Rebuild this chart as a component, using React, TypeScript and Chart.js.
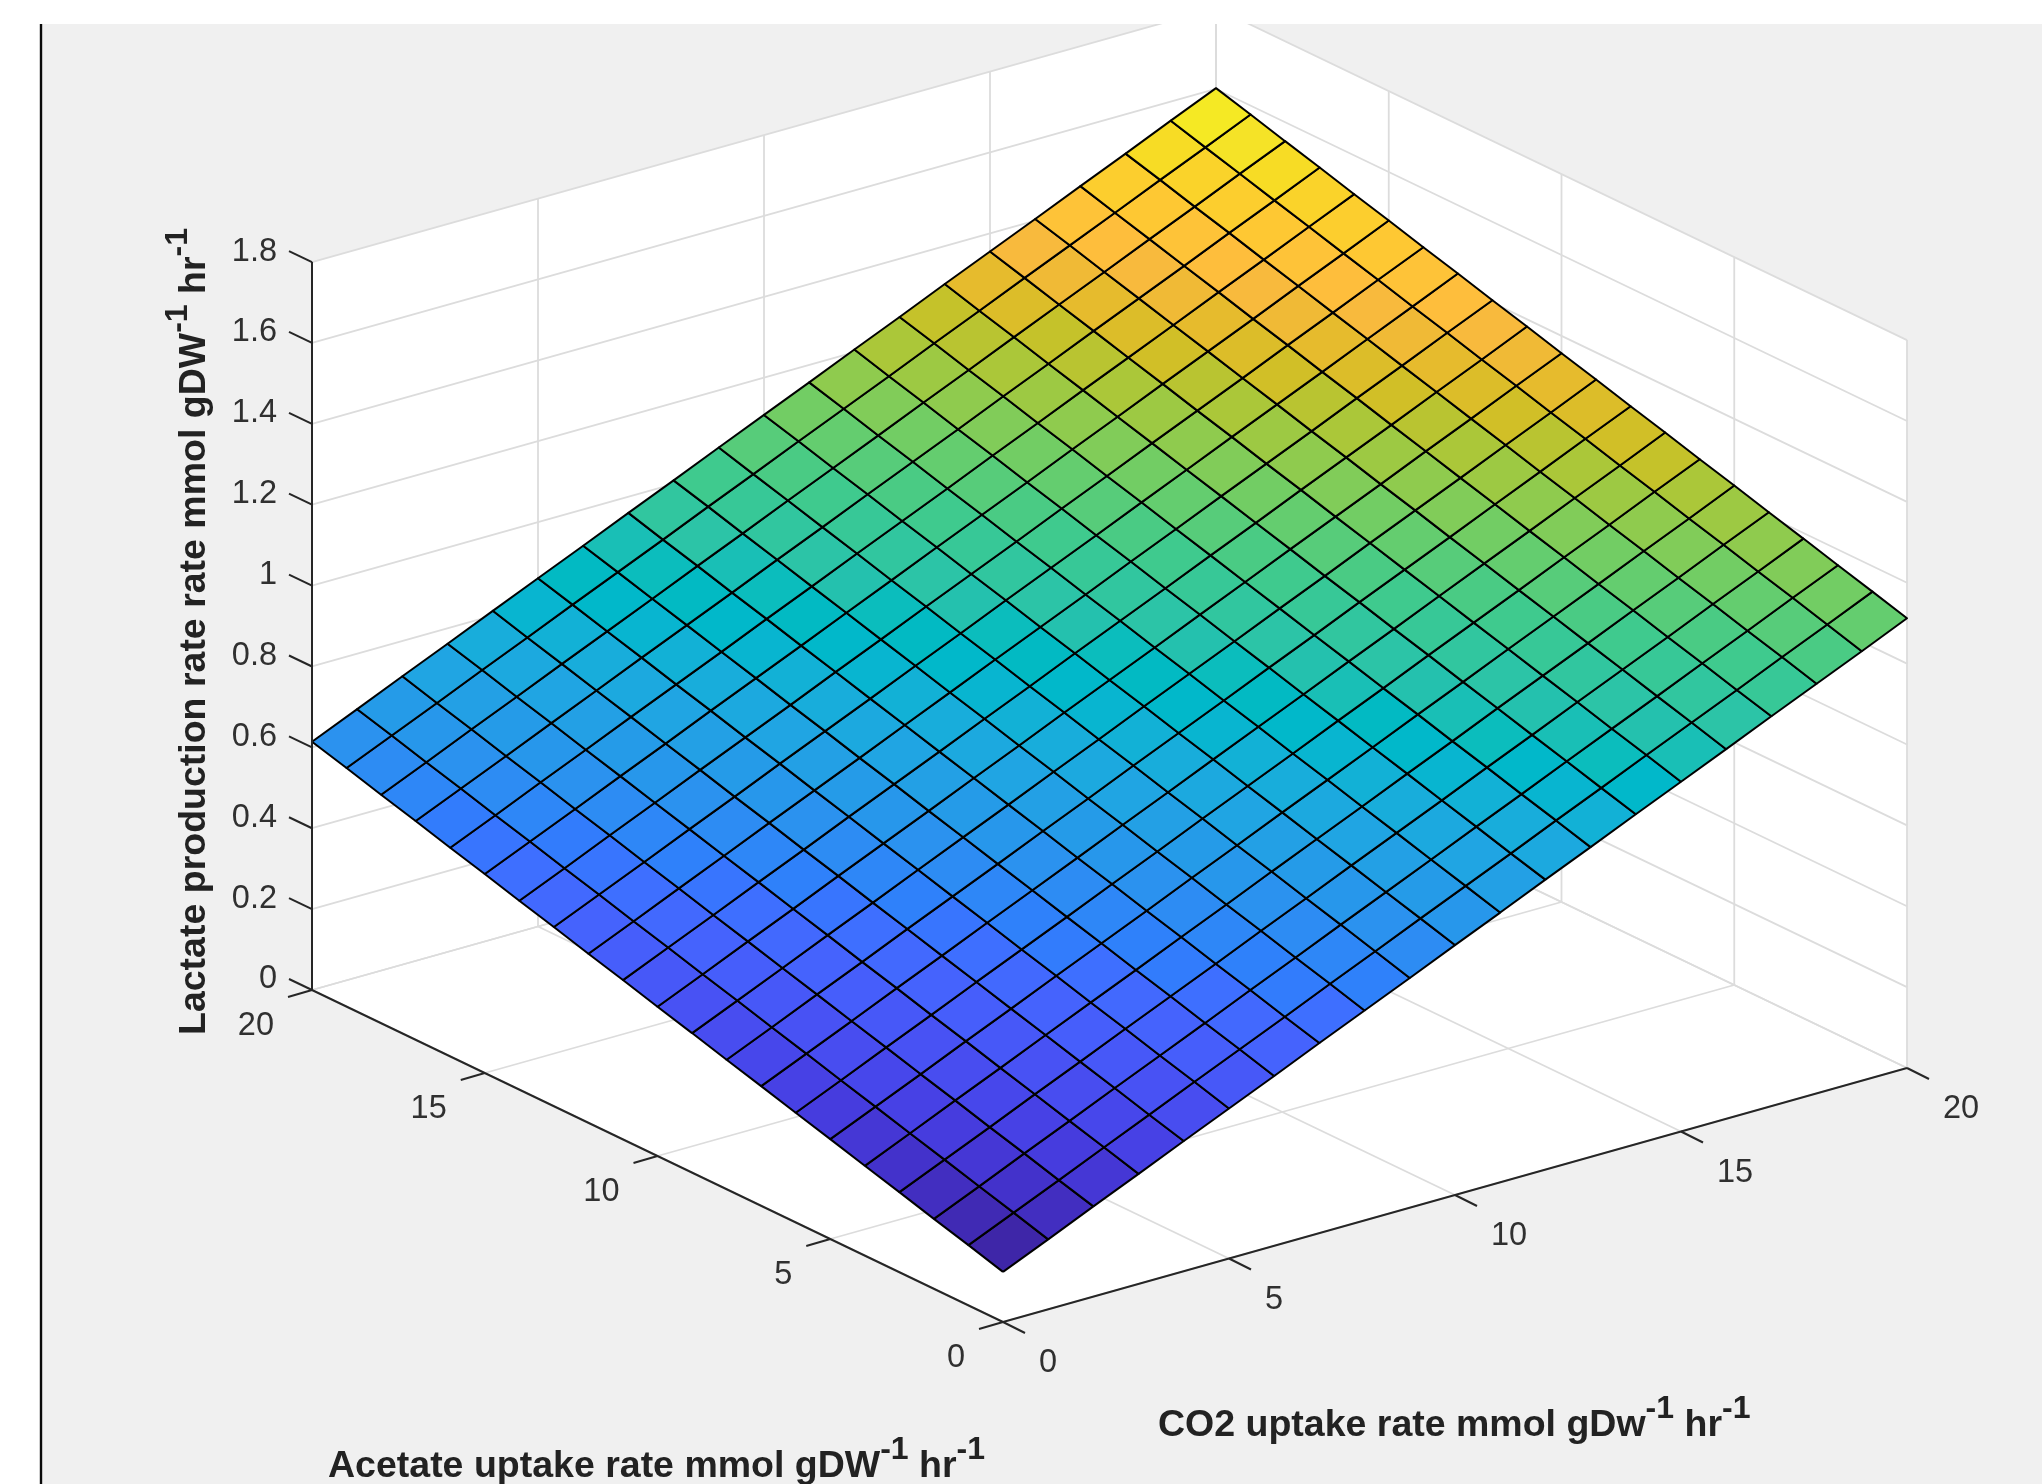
import React, { useEffect, useRef } from "react";
import { Chart, registerables } from "chart.js";

Chart.register(...registerables);

const co2Values = [0, 1, 2, 3, 4, 5, 6, 7, 8, 9, 10, 11, 12, 13, 14, 15, 16, 17, 18, 19, 20];
const acetateValues = [0, 1, 2, 3, 4, 5, 6, 7, 8, 9, 10, 11, 12, 13, 14, 15, 16, 17, 18, 19, 20];

// Lactate production: one row per acetate value, one column per CO2 value
const lactate = [
  [0.124, 0.173, 0.223, 0.272, 0.322, 0.371, 0.42, 0.47, 0.519, 0.568, 0.618, 0.667, 0.717, 0.766, 0.816, 0.865, 0.914, 0.964, 1.013, 1.062, 1.112],
  [0.149, 0.198, 0.247, 0.297, 0.346, 0.396, 0.445, 0.494, 0.544, 0.593, 0.643, 0.692, 0.741, 0.791, 0.84, 0.89, 0.939, 0.988, 1.038, 1.087, 1.137],
  [0.173, 0.222, 0.272, 0.321, 0.371, 0.42, 0.469, 0.519, 0.568, 0.618, 0.667, 0.716, 0.766, 0.815, 0.865, 0.914, 0.963, 1.013, 1.062, 1.112, 1.161],
  [0.198, 0.247, 0.296, 0.346, 0.395, 0.445, 0.494, 0.543, 0.593, 0.642, 0.692, 0.741, 0.79, 0.84, 0.889, 0.939, 0.988, 1.037, 1.087, 1.136, 1.186],
  [0.222, 0.271, 0.321, 0.37, 0.42, 0.469, 0.518, 0.568, 0.617, 0.667, 0.716, 0.765, 0.815, 0.864, 0.914, 0.963, 1.012, 1.062, 1.111, 1.161, 1.21],
  [0.247, 0.296, 0.345, 0.395, 0.444, 0.494, 0.543, 0.592, 0.642, 0.691, 0.741, 0.79, 0.839, 0.889, 0.938, 0.988, 1.037, 1.086, 1.136, 1.185, 1.235],
  [0.271, 0.32, 0.37, 0.419, 0.469, 0.518, 0.567, 0.617, 0.666, 0.716, 0.765, 0.814, 0.864, 0.913, 0.963, 1.012, 1.061, 1.111, 1.16, 1.21, 1.259],
  [0.296, 0.345, 0.394, 0.444, 0.493, 0.543, 0.592, 0.641, 0.691, 0.74, 0.79, 0.839, 0.888, 0.938, 0.987, 1.037, 1.086, 1.135, 1.185, 1.234, 1.284],
  [0.32, 0.369, 0.419, 0.468, 0.518, 0.567, 0.616, 0.666, 0.715, 0.765, 0.814, 0.863, 0.913, 0.962, 1.012, 1.061, 1.11, 1.16, 1.209, 1.259, 1.308],
  [0.345, 0.394, 0.443, 0.493, 0.542, 0.592, 0.641, 0.69, 0.74, 0.789, 0.839, 0.888, 0.937, 0.987, 1.036, 1.086, 1.135, 1.184, 1.234, 1.283, 1.333],
  [0.369, 0.418, 0.468, 0.517, 0.567, 0.616, 0.665, 0.715, 0.764, 0.814, 0.863, 0.912, 0.962, 1.011, 1.061, 1.11, 1.159, 1.209, 1.258, 1.308, 1.357],
  [0.394, 0.443, 0.492, 0.542, 0.591, 0.641, 0.69, 0.739, 0.789, 0.838, 0.888, 0.937, 0.986, 1.036, 1.085, 1.135, 1.184, 1.233, 1.283, 1.332, 1.382],
  [0.418, 0.467, 0.517, 0.566, 0.616, 0.665, 0.714, 0.764, 0.813, 0.863, 0.912, 0.961, 1.011, 1.06, 1.11, 1.159, 1.208, 1.258, 1.307, 1.357, 1.406],
  [0.443, 0.492, 0.541, 0.591, 0.64, 0.69, 0.739, 0.788, 0.838, 0.887, 0.937, 0.986, 1.035, 1.085, 1.134, 1.184, 1.233, 1.282, 1.332, 1.381, 1.431],
  [0.467, 0.516, 0.566, 0.615, 0.665, 0.714, 0.763, 0.813, 0.862, 0.912, 0.961, 1.01, 1.06, 1.109, 1.159, 1.208, 1.257, 1.307, 1.356, 1.406, 1.455],
  [0.492, 0.541, 0.59, 0.64, 0.689, 0.739, 0.788, 0.837, 0.887, 0.936, 0.986, 1.035, 1.084, 1.134, 1.183, 1.233, 1.282, 1.331, 1.381, 1.43, 1.48],
  [0.516, 0.565, 0.615, 0.664, 0.714, 0.763, 0.812, 0.862, 0.911, 0.961, 1.01, 1.059, 1.109, 1.158, 1.208, 1.257, 1.306, 1.356, 1.405, 1.455, 1.504],
  [0.541, 0.59, 0.639, 0.689, 0.738, 0.788, 0.837, 0.886, 0.936, 0.985, 1.035, 1.084, 1.133, 1.183, 1.232, 1.282, 1.331, 1.38, 1.43, 1.479, 1.529],
  [0.565, 0.614, 0.664, 0.713, 0.763, 0.812, 0.861, 0.911, 0.96, 1.01, 1.059, 1.108, 1.158, 1.207, 1.257, 1.306, 1.355, 1.405, 1.454, 1.504, 1.553],
  [0.59, 0.639, 0.688, 0.738, 0.787, 0.837, 0.886, 0.935, 0.985, 1.034, 1.084, 1.133, 1.182, 1.232, 1.281, 1.331, 1.38, 1.429, 1.479, 1.528, 1.578],
  [0.614, 0.663, 0.713, 0.762, 0.812, 0.861, 0.91, 0.96, 1.009, 1.059, 1.108, 1.157, 1.207, 1.256, 1.306, 1.355, 1.404, 1.454, 1.503, 1.553, 1.602],
];

const zTicks = [0, 0.2, 0.4, 0.6, 0.8, 1, 1.2, 1.4, 1.6, 1.8];
const floorTicks = [0, 5, 10, 15, 20];
const zTitle = ["Lactate production rate rate mmol gDW", "-1", " hr", "-1"];
const acetateTitle = ["Acetate uptake rate mmol gDW", "-1", " hr", "-1"];
const co2Title = ["CO2 uptake rate mmol gDw", "-1", " hr", "-1"];

// MATLAB parula colormap
const parula = [
  [0.2422,0.1504,0.6603],[0.2504,0.165,0.7076],[0.2578,0.1818,0.7511],[0.2647,0.1978,0.7952],
  [0.2706,0.2147,0.8364],[0.2751,0.2342,0.871],[0.2783,0.2559,0.8991],[0.2803,0.2782,0.9221],
  [0.2813,0.3006,0.9414],[0.281,0.3228,0.9579],[0.2795,0.3447,0.9717],[0.276,0.3667,0.9829],
  [0.2699,0.3892,0.9906],[0.2602,0.4123,0.9952],[0.244,0.4358,0.9988],[0.2206,0.4603,0.9973],
  [0.1963,0.4847,0.9892],[0.1834,0.5074,0.9798],[0.1786,0.5289,0.9682],[0.1764,0.5499,0.952],
  [0.1687,0.572,0.9359],[0.154,0.5902,0.9218],[0.146,0.6091,0.9079],[0.138,0.6276,0.8973],
  [0.1248,0.6459,0.8883],[0.1113,0.6635,0.8763],[0.0952,0.6798,0.8598],[0.0689,0.6948,0.8394],
  [0.0297,0.7082,0.8163],[0.0036,0.7203,0.7917],[0.0067,0.7312,0.766],[0.0433,0.7411,0.7394],
  [0.0964,0.75,0.712],[0.1408,0.7584,0.6842],[0.1717,0.767,0.6554],[0.1938,0.7758,0.6251],
  [0.2161,0.7843,0.5923],[0.247,0.7918,0.5567],[0.2906,0.7973,0.5188],[0.3406,0.8008,0.4789],
  [0.3909,0.8029,0.4354],[0.4456,0.8024,0.3909],[0.5044,0.7993,0.348],[0.5616,0.7942,0.3045],
  [0.6174,0.7876,0.2612],[0.672,0.7793,0.2227],[0.7242,0.7698,0.191],[0.7738,0.7598,0.1646],
  [0.8203,0.7498,0.1535],[0.8634,0.7406,0.1596],[0.9035,0.733,0.1774],[0.9393,0.7288,0.21],
  [0.9728,0.7298,0.2394],[0.9956,0.7434,0.2371],[0.997,0.7659,0.2199],[0.9952,0.7861,0.1999],
  [0.9892,0.8086,0.1816],[0.9786,0.8289,0.1641],[0.9676,0.8639,0.1436],[0.961,0.889,0.1537],
  [0.9597,0.9135,0.1423],[0.9628,0.9373,0.1265],[0.9691,0.9606,0.1064],[0.9769,0.9839,0.0805],
];

const W = 2042;
const H = 1484;
const PLOT_LEFT = 41;
const PLOT_TOP = 24;
const FONT = '"Liberation Sans", Arial, sans-serif';
const BG = "#f0f0f0";
const GRID = "#dcdcdc";
const AXIS = "#262626";
const TEXT = "#303030";

// Orthographic view of the MATLAB axes: screen position of the box corners
const ORIGIN = { x: 1003, y: 1322 };
const CO2_SPAN = { x: 904, y: -254 };
const ACE_SPAN = { x: -691, y: -332 };
const Z_PER_UNIT = 404.4;
const AXIS_MAX = 20;
const Z_MAX = 1.8;

const project = (ace: number, co2: number, z: number) => ({
  x: ORIGIN.x + (co2 / AXIS_MAX) * CO2_SPAN.x + (ace / AXIS_MAX) * ACE_SPAN.x,
  y: ORIGIN.y + (co2 / AXIS_MAX) * CO2_SPAN.y + (ace / AXIS_MAX) * ACE_SPAN.y - z * Z_PER_UNIT,
});

const flat = lactate.flat();
const zMin = Math.min(...flat);
const zMax = Math.max(...flat);
const cellColor = (z: number) => {
  const i = Math.min(parula.length - 1, Math.floor(((z - zMin) / (zMax - zMin)) * parula.length));
  const [r, g, b] = parula[i];
  return `rgb(${Math.round(r * 255)},${Math.round(g * 255)},${Math.round(b * 255)})`;
};

type Pt = { x: number; y: number };
const polyline = (data: Pt[], color: string, width: number, fillColor?: string) => ({
  data,
  borderColor: color,
  borderWidth: width,
  borderDash: [100000, 0],
  borderJoinStyle: "round" as const,
  backgroundColor: fillColor || "transparent",
  fill: fillColor ? ("shape" as const) : false,
  pointRadius: 0,
  tension: 0,
});

function buildDatasets() {
  const list: any[] = [];
  // white panes
  list.push(polyline([project(20, 0, 0), project(20, 20, 0), project(20, 20, Z_MAX), project(20, 0, Z_MAX), project(20, 0, 0)], "#ffffff", 0.01, "#ffffff"));
  list.push(polyline([project(20, 20, 0), project(0, 20, 0), project(0, 20, Z_MAX), project(20, 20, Z_MAX), project(20, 20, 0)], "#ffffff", 0.01, "#ffffff"));
  list.push(polyline([project(0, 0, 0), project(0, 20, 0), project(20, 20, 0), project(20, 0, 0), project(0, 0, 0)], "#ffffff", 0.01, "#ffffff"));
  // grid
  for (const t of floorTicks) {
    list.push(polyline([project(0, t, 0), project(20, t, 0), project(20, t, Z_MAX)], GRID, 1.8));
    list.push(polyline([project(t, 0, 0), project(t, 20, 0), project(t, 20, Z_MAX)], GRID, 1.8));
  }
  for (const z of zTicks) {
    list.push(polyline([project(20, 0, z), project(20, 20, z), project(0, 20, z)], GRID, 1.8));
  }
  // surface
  for (let a = 0; a < acetateValues.length - 1; a++) {
    for (let c = 0; c < co2Values.length - 1; c++) {
      const pts = [
        project(acetateValues[a], co2Values[c], lactate[a][c]),
        project(acetateValues[a], co2Values[c + 1], lactate[a][c + 1]),
        project(acetateValues[a + 1], co2Values[c + 1], lactate[a + 1][c + 1]),
        project(acetateValues[a + 1], co2Values[c], lactate[a + 1][c]),
        project(acetateValues[a], co2Values[c], lactate[a][c]),
      ];
      list.push(polyline(pts, "#000000", 2, cellColor(lactate[a][c])));
    }
  }
  // axis rulers and ticks
  list.push(polyline([project(20, 0, 0), project(20, 0, Z_MAX)], AXIS, 2));
  list.push(polyline([project(20, 0, 0), project(0, 0, 0)], AXIS, 2));
  list.push(polyline([project(0, 0, 0), project(0, 20, 0)], AXIS, 2));
  for (const z of zTicks) {
    const p = project(20, 0, z);
    list.push(polyline([p, { x: p.x - 23, y: p.y - 11 }], AXIS, 2));
  }
  for (const t of floorTicks) {
    const p = project(t, 0, 0);
    list.push(polyline([p, { x: p.x - 24, y: p.y + 7 }], AXIS, 2));
    const q = project(0, t, 0);
    list.push(polyline([q, { x: q.x + 22, y: q.y + 11 }], AXIS, 2));
  }
  return list.reverse();
}

function drawRich(ctx: CanvasRenderingContext2D, parts: string[], mainSize: number, supSize: number, supRise: number) {
  let x = 0;
  parts.forEach((p, i) => {
    const sup = i % 2 === 1;
    ctx.font = `bold ${sup ? supSize : mainSize}px ${FONT}`;
    ctx.fillText(p, x, sup ? -supRise : 0);
    x += ctx.measureText(p).width;
  });
}

const annotations = {
  id: "annotations",
  beforeDraw(chart: any) {
    const { ctx, chartArea: a } = chart;
    ctx.save();
    ctx.fillStyle = BG;
    ctx.fillRect(a.left, a.top, a.right - a.left, a.bottom - a.top);
    ctx.restore();
  },
  afterDraw(chart: any) {
    const { ctx, chartArea: a, scales } = chart;
    const sx = (v: number) => scales.x.getPixelForValue(v);
    const sy = (v: number) => scales.y.getPixelForValue(v);
    ctx.save();
    ctx.strokeStyle = "#0a0a0a";
    ctx.lineWidth = 2.4;
    ctx.beginPath();
    ctx.moveTo(a.left, a.top);
    ctx.lineTo(a.left, a.bottom);
    ctx.stroke();

    ctx.fillStyle = TEXT;
    ctx.font = `32.5px ${FONT}`;
    ctx.textBaseline = "middle";
    ctx.textAlign = "right";
    zTicks.forEach((z) => {
      const p = project(20, 0, z);
      ctx.fillText(String(z), sx(p.x) - 35, sy(p.y) - 10.5);
    });
    floorTicks.forEach((t) => {
      const p = project(t, 0, 0);
      ctx.fillText(String(t), sx(p.x) - 38, sy(p.y) + 36.5);
    });
    ctx.textAlign = "left";
    floorTicks.forEach((t) => {
      const p = project(0, t, 0);
      ctx.fillText(String(t), sx(p.x) + 36, sy(p.y) + 41.5);
    });

    ctx.textBaseline = "alphabetic";
    ctx.fillStyle = "#222222";
    ctx.save();
    ctx.translate(328, 1476.5);
    drawRich(ctx, acetateTitle, 37.5, 32, 18);
    ctx.restore();
    ctx.save();
    ctx.translate(1158, 1436);
    drawRich(ctx, co2Title, 37.5, 32, 18);
    ctx.restore();
    ctx.save();
    ctx.translate(205, 1035);
    ctx.rotate(-Math.PI / 2);
    drawRich(ctx, zTitle, 37.5, 32, 18);
    ctx.restore();
    ctx.restore();
  },
};

export default function App() {
  const ref = useRef<HTMLCanvasElement>(null);
  useEffect(() => {
    const chart = new Chart(ref.current as HTMLCanvasElement, {
      type: "line",
      data: { datasets: buildDatasets() },
      options: {
        animation: false,
        responsive: false,
        events: [],
        layout: { padding: { left: PLOT_LEFT, top: PLOT_TOP, right: 0, bottom: 0 } },
        plugins: { legend: { display: false }, tooltip: { enabled: false }, title: { display: false } },
        scales: {
          x: { type: "linear", display: false, min: PLOT_LEFT, max: W },
          y: { type: "linear", display: false, min: PLOT_TOP, max: H, reverse: true },
        },
      },
      plugins: [annotations],
    } as any);
    return () => chart.destroy();
  }, []);
  return (
    <div style={{ position: "absolute", left: 0, top: 0, width: W, height: H, background: "#fff", overflow: "hidden" }}>
      <canvas ref={ref} width={W} height={H} style={{ display: "block", filter: "blur(0.7px)" }} />
    </div>
  );
}
